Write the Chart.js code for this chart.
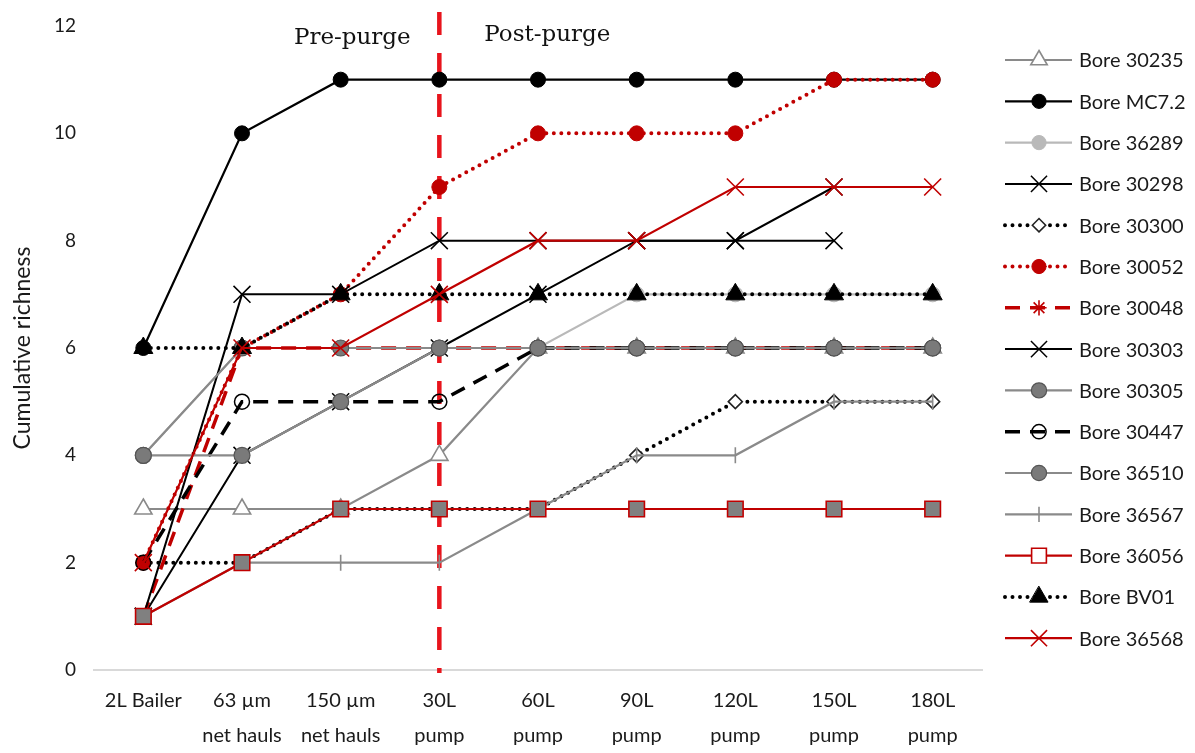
<!DOCTYPE html>
<html><head><meta charset="utf-8">
<script src="https://cdn.jsdelivr.net/npm/chart.js@4/dist/chart.umd.min.js"></script>
<style>html,body{margin:0;padding:0;background:#fff}canvas{display:block}</style>
</head><body>
<canvas id="c" width="1195" height="753"></canvas>
<script>
// ---------- data ----------
const categories = [["2L Bailer"], ["63 µm", "net hauls"], ["150 µm", "net hauls"], ["30L", "pump"], ["60L", "pump"], ["90L", "pump"], ["120L", "pump"], ["150L", "pump"], ["180L", "pump"]];
const yTicks = [0, 2, 4, 6, 8, 10, 12];
const purgeCategoryIndex = 3;
const purgeLabels = ["Pre-purge", "Post-purge"];

const bore30235 = [3, 3, 3, 4, 6, 6, 6, 6, 6];
const boreMC72  = [6, 10, 11, 11, 11, 11, 11, 11, 11];
const bore36289 = [4, 6, 6, 6, 6, 7, 7, 7, 7];
const bore30298 = [1, 4, 5, 6, 7, 8, 8, 9, null];
const bore30300 = [2, 2, 3, 3, 3, 4, 5, 5, 5];
const bore30052 = [2, 6, 7, 9, 10, 10, 10, 11, 11];
const bore30048 = [1, 6, 6, 6, 6, 6, 6, 6, 6];
const bore30303 = [1, 7, 7, 8, 8, 8, 8, 8, null];
const bore30305 = [4, 6, 6, 6, 6, 6, 6, 6, 6];
const bore30447 = [2, 5, 5, 5, 6, 6, 6, 6, 6];
const bore36510 = [4, 4, 5, 6, 6, 6, 6, 6, 6];
const bore36567 = [1, 2, 2, 2, 3, 4, 4, 5, 5];
const bore36056 = [1, 2, 3, 3, 3, 3, 3, 3, 3];
const boreBV01  = [6, 6, 7, 7, 7, 7, 7, 7, 7];
const bore36568 = [2, 6, 6, 7, 8, 8, 9, 9, 9];

// ---------- styles ----------
const GREY = '#8a8a8a', LGREY = '#b9b9b9', BLACK = '#000000', RED = '#c00000', VRED = '#e8141c';
const DOT = [0, 7.5], DASH = [15, 10];
const series = [
  {label: 'Bore 30235', data: bore30235, color: GREY,  width: 2.2, marker: 'triangle', r: 10, fill: '#ffffff', pbc: GREY, pbw: 1.6},
  {label: 'Bore MC7.2', data: boreMC72,  color: BLACK, width: 2.2, marker: 'circle',   r: 7.5, fill: BLACK, pbc: BLACK, pbw: 1},
  {label: 'Bore 36289', data: bore36289, color: LGREY, width: 2.2, marker: 'circle',   r: 7.5, fill: LGREY, pbc: LGREY, pbw: 1},
  {label: 'Bore 30298', data: bore30298, color: BLACK, width: 2.0, marker: 'crossRot', r: 12, fill: BLACK, pbc: BLACK, pbw: 1.5},
  {label: 'Bore 30300', data: bore30300, color: BLACK, width: 4, dash: DOT, cap: 'round', marker: 'rectRot', r: 7, fill: '#ffffff', pbc: '#222', pbw: 1.6},
  {label: 'Bore 30052', data: bore30052, color: RED,   width: 4, dash: DOT, cap: 'round', marker: 'circle', r: 7.5, fill: RED, pbc: RED, pbw: 1},
  {label: 'Bore 30048', data: bore30048, color: RED,   width: 3.5, dash: DASH, marker: 'star', r: 8, fill: RED, pbc: RED, pbw: 1.6},
  {label: 'Bore 30303', data: bore30303, color: BLACK, width: 2.0, marker: 'crossRot', r: 12, fill: BLACK, pbc: BLACK, pbw: 1.5},
  {label: 'Bore 30305', data: bore30305, color: GREY,  width: 2.2, marker: 'circle',   r: 8, fill: '#7a7a7a', pbc: '#555', pbw: 1.2},
  {label: 'Bore 30447', data: bore30447, color: BLACK, width: 3.5, dash: DASH, marker: 'circle', r: 7.5, fill: 'rgba(0,0,0,0)', pbc: BLACK, pbw: 1.5},
  {label: 'Bore 36510', data: bore36510, color: GREY,  width: 2.2, marker: 'circle',   r: 8, fill: '#7a7a7a', pbc: '#555', pbw: 1.2},
  {label: 'Bore 36567', data: bore36567, color: GREY,  width: 2.2, marker: 'line', rot: 90, r: 8, fill: GREY, pbc: GREY, pbw: 1.6},
  {label: 'Bore 36056', data: bore36056, color: RED,   width: 2.2, marker: 'rect', r: 11, fill: '#808080', legendFill: '#ffffff', pbc: RED, pbw: 1.6},
  {label: 'Bore BV01',  data: boreBV01,  color: BLACK, width: 4, dash: DOT, cap: 'round', marker: 'triangle', r: 11, fill: BLACK, pbc: BLACK, pbw: 1},
  {label: 'Bore 36568', data: bore36568, color: RED,   width: 2.2, marker: 'crossRot', r: 12, fill: RED, pbc: RED, pbw: 1.6}
];

const FONT = 'Lato, "Open Sans", sans-serif';
const datasets = series.map((s, i) => ({
  label: s.label,
  data: s.data,
  borderColor: s.color,
  borderWidth: s.width,
  borderDash: s.dash || [],
  borderCapStyle: s.cap || 'butt',
  pointStyle: s.marker,
  pointRotation: s.rot || 0,
  pointRadius: s.r,
  pointHoverRadius: s.r,
  pointBackgroundColor: s.fill,
  pointBorderColor: s.pbc,
  pointBorderWidth: s.pbw,
  fill: false,
  tension: 0,
  order: series.length - i
}));

const overlay = {
  id: 'overlay',
  beforeDatasetsDraw(chart) {
    const ctx = chart.ctx, x = chart.scales.x.getPixelForValue(purgeCategoryIndex);
    ctx.save();
    ctx.strokeStyle = VRED; ctx.lineWidth = 4.5; ctx.setLineDash([23, 18]);
    ctx.beginPath(); ctx.moveTo(x, 12); ctx.lineTo(x, chart.chartArea.bottom + 3); ctx.stroke();
    ctx.restore();
  },
  afterDraw(chart) {
    const ctx = chart.ctx, x = chart.scales.x.getPixelForValue(purgeCategoryIndex);
    ctx.save();
    ctx.fillStyle = '#111';
    ctx.font = '23px "DejaVu Serif", "Liberation Serif", serif';
    ctx.textBaseline = 'alphabetic'; ctx.textAlign = 'center';
    ctx.fillText(purgeLabels[0], x - 87, 44);
    ctx.fillText(purgeLabels[1], x + 108, 41);
    // legend
    const H = Chart.helpers;
    series.forEach((s, i) => {
      const y = 60 + 41.3 * i;
      ctx.save();
      ctx.strokeStyle = s.color; ctx.lineWidth = s.width;
      ctx.setLineDash(s.dash || []); ctx.lineCap = s.cap || 'butt';
      ctx.beginPath(); ctx.moveTo(1005, y); ctx.lineTo(1072, y); ctx.stroke();
      ctx.setLineDash([]);
      ctx.fillStyle = s.legendFill || s.fill; ctx.strokeStyle = s.pbc; ctx.lineWidth = s.pbw;
      H.drawPoint(ctx, {pointStyle: s.marker, radius: s.r * 0.95, borderWidth: s.pbw, rotation: s.rot || 0}, 1039, y);
      ctx.restore();
      ctx.fillStyle = '#1a1a1a'; ctx.font = '20px ' + FONT;
      ctx.textAlign = 'left'; ctx.textBaseline = 'middle';
      ctx.fillText(s.label, 1079, y + 1);
    });
    ctx.restore();
  }
};

new Chart(document.getElementById('c'), {
  type: 'line',
  data: {labels: categories, datasets},
  options: {
    responsive: false, animation: false,
    layout: {padding: {top: 26, right: 213, bottom: 0, left: 0}},
    plugins: {legend: {display: false}, tooltip: {enabled: false}},
    scales: {
      x: {
        offset: true,
        grid: {display: false, drawTicks: false},
        border: {display: true, color: '#d9d9d9', width: 2},
        ticks: {color: '#1a1a1a', font: {family: FONT, size: 20, lineHeight: 1.75}, padding: 13, maxRotation: 0, autoSkip: false},
        afterFit(s) { s.height = 83; }
      },
      y: {
        min: 0, max: 12,
        afterBuildTicks(s) { s.ticks = yTicks.map(v => ({value: v})); },
        grid: {display: false, drawTicks: false},
        border: {display: false},
        ticks: {color: '#1a1a1a', font: {family: FONT, size: 19}, padding: 18},
        title: {display: true, text: 'Cumulative richness', color: '#1a1a1a', font: {family: FONT, size: 23}, padding: {top: 9, bottom: 0}},
        afterFit(s) { s.width = 94; s.paddingTop = 0; s.paddingBottom = 0; }
      }
    }
  },
  plugins: [overlay]
});
</script>
</body></html>
